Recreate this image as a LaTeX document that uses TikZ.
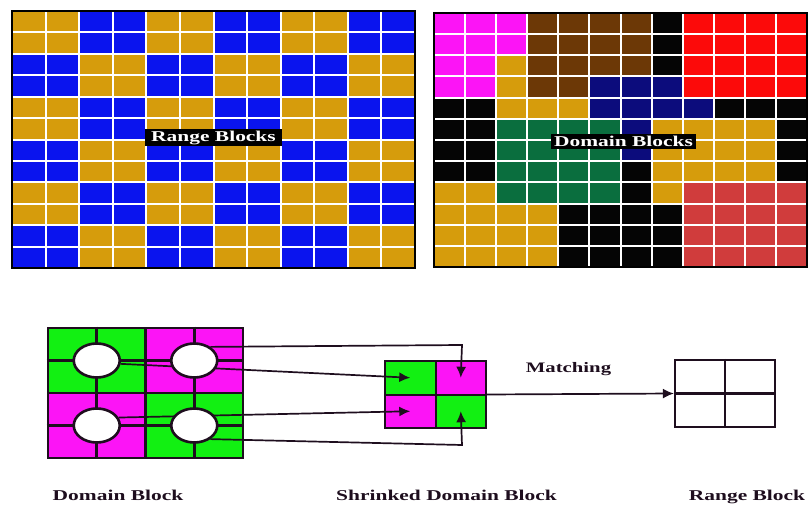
\documentclass[tikz,border=0pt]{standalone}
\usepackage{fontspec}
\setmainfont{Liberation Serif}
\usepackage{graphicx}
\usepackage{tikz}
\usetikzlibrary{arrows.meta,shapes.geometric}
\definecolor{ouro}{HTML}{D69C0C}
\definecolor{azul}{HTML}{0A14EE}
\definecolor{rosa}{HTML}{FC14F6}
\definecolor{marrom}{HTML}{6C3806}
\definecolor{vermelho}{HTML}{FC0A0A}
\definecolor{vermelhoesc}{HTML}{D03C3C}
\definecolor{marinho}{HTML}{0C0C7C}
\definecolor{verdeesc}{HTML}{0A6E3E}
\definecolor{preto}{HTML}{050505}
\definecolor{verde}{HTML}{12F012}
\definecolor{traco}{HTML}{1E0E1E}
\newcommand{\largo}[1]{\scalebox{1.43}[1]{#1}}
\pgfdeclarelayer{fundo}
\pgfdeclarelayer{frente}
\pgfsetlayers{fundo,main,frente}

\begin{document}
\begin{tikzpicture}[x=1pt, y=-1pt,
  grade/.style={draw=white, line width=2pt},
  moldura/.style={draw=black, line width=2pt},
  celula/.style={draw=traco, line width=2.8pt, minimum width=97.5pt,
                 minimum height=65pt, inner sep=0pt},
  furo/.style={ellipse, draw=traco, line width=2.6pt, fill=white,
               minimum width=46pt, minimum height=34pt, inner sep=0pt},
  celulap/.style={draw=traco, line width=2pt, minimum width=50.5pt,
                  minimum height=33.5pt, inner sep=0pt},
  bloco/.style={draw=traco, line width=2.2pt, minimum width=100pt,
                minimum height=67pt, inner sep=0pt},
  seta/.style={draw=traco, line width=1.7pt, -{Latex[length=11pt,width=10pt]}},
  etiqueta/.style={fill=black, text=white, inner xsep=3pt, inner ysep=2pt,
                   font=\fontsize{15}{18}\selectfont\bfseries},
  rotulo/.style={anchor=base, inner sep=0pt, text=traco,
                 font=\fontsize{15}{18}\selectfont\bfseries}
]
\useasboundingbox (0,0) rectangle (809,505);

\foreach \r in {0,...,11}
  \foreach \c in {0,...,11} {
    \pgfmathtruncatemacro{\tom}{mod(floor(\r/2)+floor(\c/2),2)}
    \ifnum\tom=0 \def\cor{ouro}\else\def\cor{azul}\fi
    \fill[\cor] (12+\c*33.583,11+\r*21.417) rectangle ++(33.583,21.417);
  }
\foreach \k in {1,...,11} {
  \draw[grade] (12+\k*33.583,11) -- ++(0,257);
  \draw[grade] (12,11+\k*21.417) -- ++(403,0);
}
\draw[moldura] (12,11) rectangle (415,268);
\node[etiqueta, inner xsep=6pt] (rotR) at (213.5,137.5) {\largo{Range Blocks}};

\foreach [count=\r from 0] \linha in {
  {rosa,rosa,rosa,marrom,marrom,marrom,marrom,preto,vermelho,vermelho,vermelho,vermelho},
  {rosa,rosa,rosa,marrom,marrom,marrom,marrom,preto,vermelho,vermelho,vermelho,vermelho},
  {rosa,rosa,ouro,marrom,marrom,marrom,marrom,preto,vermelho,vermelho,vermelho,vermelho},
  {rosa,rosa,ouro,marrom,marrom,marinho,marinho,marinho,vermelho,vermelho,vermelho,vermelho},
  {preto,preto,ouro,ouro,ouro,marinho,marinho,marinho,marinho,preto,preto,preto},
  {preto,preto,verdeesc,verdeesc,verdeesc,verdeesc,marinho,ouro,ouro,ouro,ouro,preto},
  {preto,preto,verdeesc,verdeesc,verdeesc,verdeesc,marinho,ouro,ouro,ouro,ouro,preto},
  {preto,preto,verdeesc,verdeesc,verdeesc,verdeesc,preto,ouro,ouro,ouro,ouro,preto},
  {ouro,ouro,verdeesc,verdeesc,verdeesc,verdeesc,preto,ouro,vermelhoesc,vermelhoesc,vermelhoesc,vermelhoesc},
  {ouro,ouro,ouro,ouro,preto,preto,preto,preto,vermelhoesc,vermelhoesc,vermelhoesc,vermelhoesc},
  {ouro,ouro,ouro,ouro,preto,preto,preto,preto,vermelhoesc,vermelhoesc,vermelhoesc,vermelhoesc},
  {ouro,ouro,ouro,ouro,preto,preto,preto,preto,vermelhoesc,vermelhoesc,vermelhoesc,vermelhoesc}}
  \foreach [count=\c from 0] \cor in \linha
    \fill[\cor] (434+\c*31.083,13+\r*21.167) rectangle ++(31.083,21.167);
\foreach \k in {1,...,11} {
  \draw[grade] (434+\k*31.083,13) -- ++(0,254);
  \draw[grade] (434,13+\k*21.167) -- ++(373,0);
}
\draw[moldura] (434,13) rectangle (807,267);
\node[etiqueta] (rotD) at (623.5,141.5) {\largo{Domain Blocks}};

\begin{pgfonlayer}{fundo}
\node[celula, fill=verde] (d11) at (96.75,360.5) {};
\node[celula, fill=rosa] (d12) at (194.25,360.5) {};
\node[celula, fill=rosa] (d21) at (96.75,425.5) {};
\node[celula, fill=verde] (d22) at (194.25,425.5) {};
\foreach \q in {d11,d12,d21,d22}
  \draw[traco, line width=2.6pt] (\q.north) -- (\q.south) (\q.west) -- (\q.east);
\node[celulap, fill=verde] (s11) at (410.25,377.75) {};
\node[celulap, fill=rosa] (s12) at (460.75,377.75) {};
\node[celulap, fill=rosa] (s21) at (410.25,411.25) {};
\node[celulap, fill=verde] (s22) at (460.75,411.25) {};
\node[celulap, minimum width=101pt, minimum height=67pt] (sb) at (435.5,394.5) {};
\node[bloco] (rb) at (725,393.5) {};
\draw[traco, line width=2.2pt] (rb.north) -- (rb.south) (rb.west) -- (rb.east);
\end{pgfonlayer}

\begin{pgfonlayer}{frente}
\node[furo] (h11) at (d11) {};
\node[furo] (h12) at (d12) {};
\node[furo] (h21) at (d21) {};
\node[furo] (h22) at (d22) {};
\end{pgfonlayer}

\coordinate (c1) at (462,345);
\coordinate (c4) at (462,445);
\draw[seta] (h12.40) -- (c1) -- (s12.center);
\draw[seta] (h11.-8) -- (s11.center);
\draw[seta] (h21.20) -- (s21.center);
\draw[seta] (h22.-40) -- (c4) -- (s22.center);
\draw[seta] (sb.east) -- (rb.west);

\node[rotulo, font=\fontsize{14.5}{17}\selectfont\bfseries] (match) at (568.5,372) {\largo{Matching}};
\node[rotulo] (rotDB) at (118,500) {\largo{Domain Block}};
\node[rotulo] (rotSB) at (446.5,500) {\largo{Shrinked Domain Block}};
\node[rotulo] (rotRB) at (747,500) {\largo{Range Block}};
\end{tikzpicture}
\end{document}
